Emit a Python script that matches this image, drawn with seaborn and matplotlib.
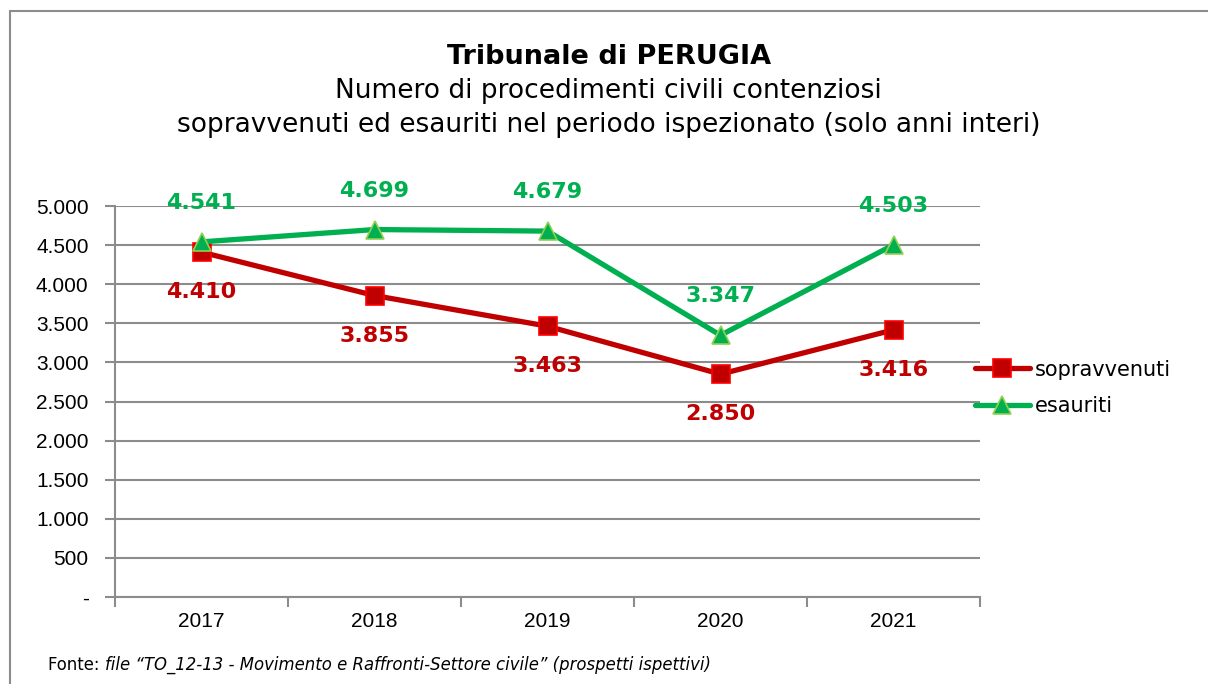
import numpy as np
import pandas as pd
import matplotlib
matplotlib.use("Agg")
import matplotlib.pyplot as plt
import seaborn as sns
from matplotlib.lines import Line2D
from matplotlib.ticker import FuncFormatter, FixedLocator

# data
anni = ["2017", "2018", "2019", "2020", "2021"]
sopravvenuti = [4410, 3855, 3463, 2850, 3416]
esauriti = [4541, 4699, 4679, 3347, 4503]

RED = "#C00000"
GREEN = "#00B050"
GRID = "#8C8C8C"

sns.set_theme(style="white")
plt.rcParams["font.family"] = ["DejaVu Sans"]
plt.rcParams["text.color"] = "black"

df = pd.DataFrame({
    "x": list(range(len(anni))) * 2,
    "valore": sopravvenuti + esauriti,
    "serie": ["sopravvenuti"] * len(anni) + ["esauriti"] * len(anni),
})

fig = plt.figure(figsize=(12.08, 6.84), dpi=100)
ax = fig.add_axes([115 / 1208, 1 - 597 / 684, (980 - 115) / 1208, (597 - 206) / 684])

# red first, green on top
sns.lineplot(data=df[df.serie == "sopravvenuti"], x="x", y="valore", ax=ax,
             color=RED, lw=3.8, marker="s", markersize=13.5,
             markerfacecolor=RED, markeredgecolor="#FF0000", markeredgewidth=1.2,
             label="sopravvenuti", zorder=3)
sns.lineplot(data=df[df.serie == "esauriti"], x="x", y="valore", ax=ax,
             color=GREEN, lw=3.8, marker="^", markersize=13.5,
             markerfacecolor=GREEN, markeredgecolor="#92D050", markeredgewidth=1.2,
             label="esauriti", zorder=4)

ax.set_xlim(-0.5, len(anni) - 0.5)
ax.set_ylim(0, 5000)
ax.set_yticks(np.arange(0, 5001, 500))
ax.yaxis.set_major_formatter(FuncFormatter(
    lambda v, p: "-" if v == 0 else f"{int(v):,}".replace(",", ".")))
ax.yaxis.grid(True, color=GRID, lw=1.5)
ax.set_axisbelow(True)

# x ticks between categories, labels centred
ax.xaxis.set_major_locator(FixedLocator(np.arange(-0.5, len(anni), 1)))
ax.xaxis.set_major_formatter(FuncFormatter(lambda v, p: ""))
ax.xaxis.set_minor_locator(FixedLocator(range(len(anni))))
ax.xaxis.set_minor_formatter(FuncFormatter(lambda v, p: anni[int(round(v))]))
ax.tick_params(axis="x", which="major", length=7, width=1.5, color=GRID, direction="out", bottom=True)
ax.tick_params(axis="x", which="minor", length=0, pad=11)
ax.tick_params(axis="y", length=7, width=1.5, color=GRID, direction="out", left=True, pad=12)
ax.tick_params(axis="both", which="both", labelsize=15, labelcolor="black",
               labelfontfamily="Liberation Sans")

for s in ["top", "right"]:
    ax.spines[s].set_visible(False)
for s in ["left", "bottom"]:
    ax.spines[s].set_color(GRID)
    ax.spines[s].set_linewidth(1.5)
ax.set_xlabel("")
ax.set_ylabel("")

# data labels
for i, v in enumerate(sopravvenuti):
    ax.annotate(f"{v:,}".replace(",", "."), (i, v), xytext=(0, -29), textcoords="offset points",
                ha="center", va="center", color=RED, fontsize=16, fontweight="bold")
for i, v in enumerate(esauriti):
    ax.annotate(f"{v:,}".replace(",", "."), (i, v), xytext=(0, 28), textcoords="offset points",
                ha="center", va="center", color=GREEN, fontsize=16, fontweight="bold")

leg = ax.legend(loc="center left", bbox_to_anchor=(967 / 1208, 1 - 388 / 684),
                bbox_transform=fig.transFigure, frameon=False, fontsize=15,
                handlelength=2.6, handletextpad=0.25, labelspacing=0.8, borderaxespad=0)
for t in leg.get_texts():
    t.set_color("black")

# titles
fig.text(609.5 / 1208, 1 - 57 / 684, "Tribunale di PERUGIA", ha="center", va="center",
         fontsize=19.5, fontweight="bold")
fig.text(608.5 / 1208, 1 - 91 / 684, "Numero di procedimenti civili contenziosi", ha="center",
         va="center", fontsize=19)
fig.text(608.5 / 1208, 1 - 125 / 684,
         "sopravvenuti ed esauriti nel periodo ispezionato (solo anni interi)",
         ha="center", va="center", fontsize=19)

# source note
t1 = fig.text(48 / 1208, 1 - 665 / 684, "Fonte: ", ha="left", va="center", fontsize=11.9)
fig.canvas.draw()
bb = t1.get_window_extent()
fig.text(bb.x1 / 1208, 1 - 665 / 684,
         "file \u201cTO_12-13 - Movimento e Raffronti-Settore civile\u201d (prospetti ispettivi)",
         ha="left", va="center", fontsize=11.9, style="italic")

# chart frame (left and top edges visible)
fig.add_artist(Line2D([9.5 / 1208, 9.5 / 1208], [0, 1 - 10.5 / 684], transform=fig.transFigure,
                      color="#8C8C8C", lw=1.5))
fig.add_artist(Line2D([9.5 / 1208, 1], [1 - 10.5 / 684, 1 - 10.5 / 684], transform=fig.transFigure,
                      color="#8C8C8C", lw=1.5))

fig.savefig("out.png", dpi=100)
